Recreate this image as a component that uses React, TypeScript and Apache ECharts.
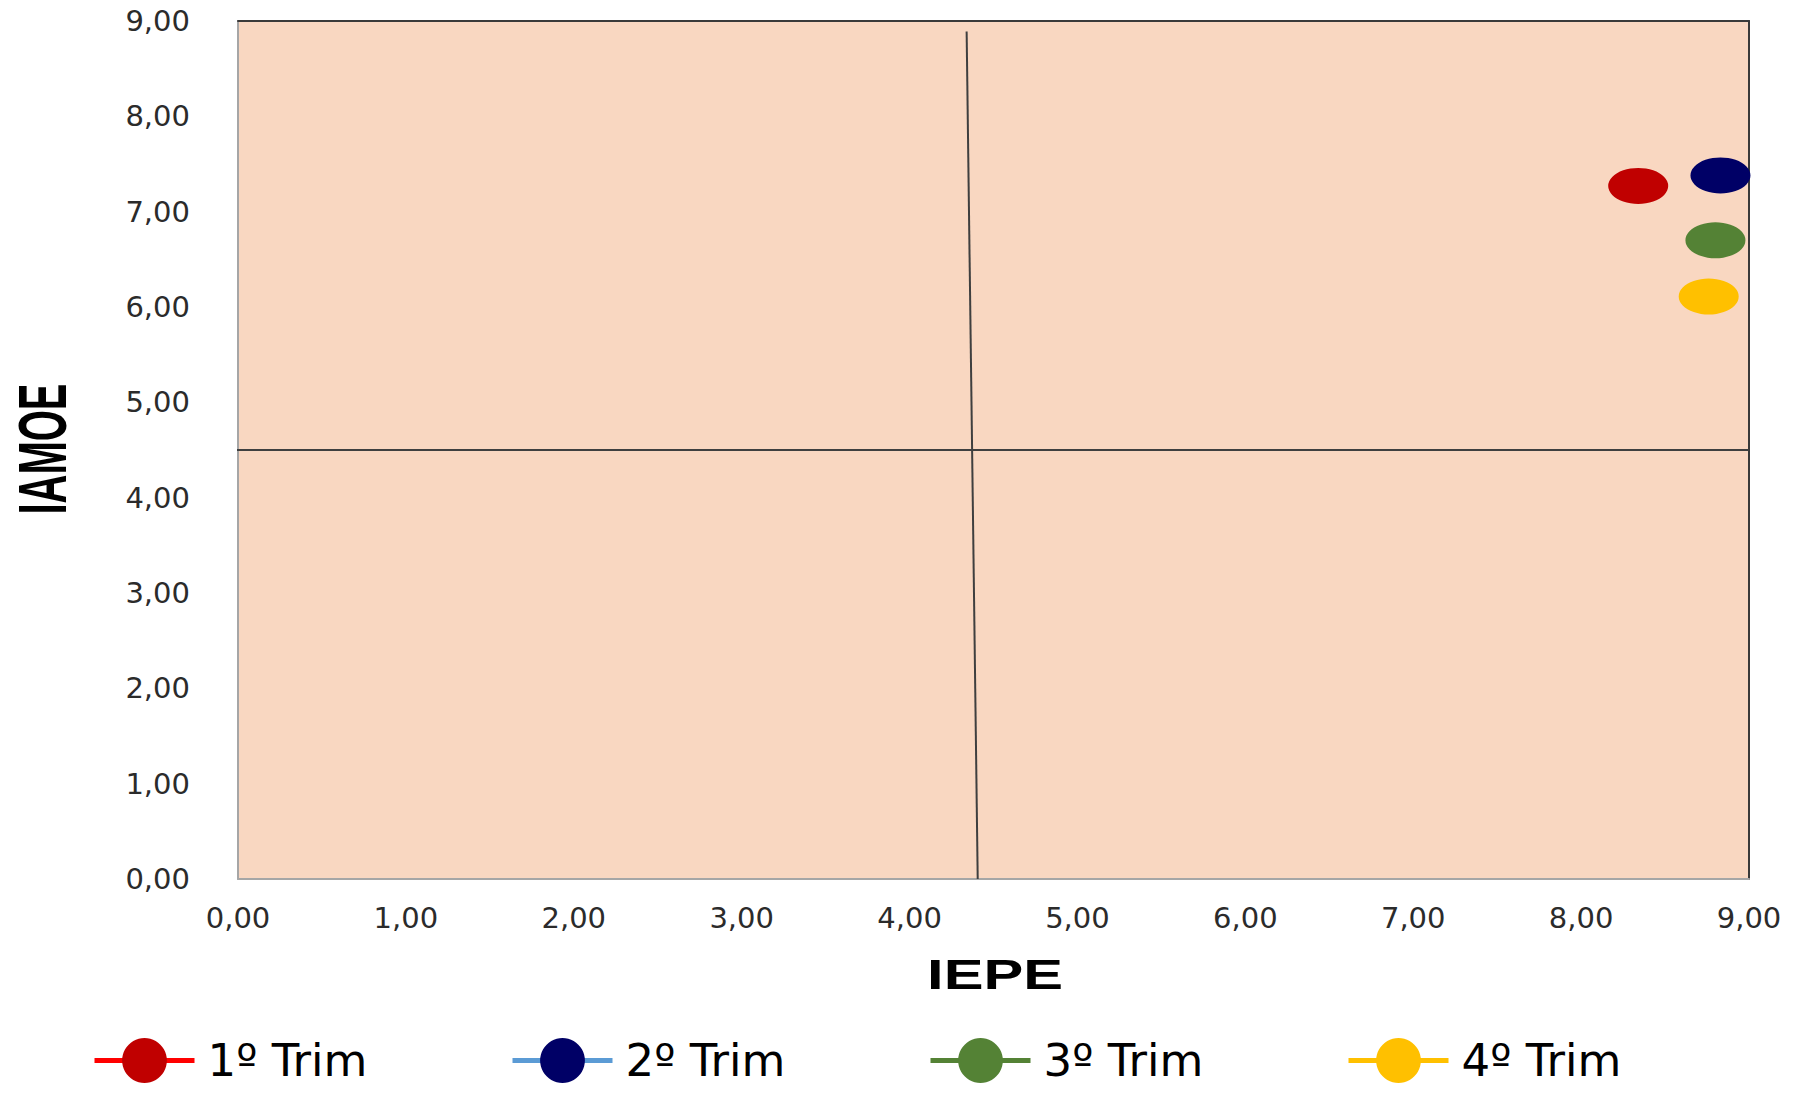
import React, { useEffect, useRef } from "react";
import * as echarts from "echarts";

const seriesNames = ["1º Trim", "2º Trim", "3º Trim", "4º Trim"];
const iepeValues = [8.34, 8.83, 8.8, 8.76];
const iamoeValues = [7.27, 7.38, 6.7, 6.11];
const markerColors = ["#C00000", "#000066", "#548235", "#FFC000"];
const legendLineColors = ["#FF0000", "#5B9BD5", "#548235", "#FFC000"];
const legendLefts = [92, 510, 928, 1346];

const verticalRefLine = [
  [4.406, 0],
  [4.34, 8.89],
];
const horizontalRefLine = [
  [-0.025, 4.5],
  [9, 4.5],
];

const axisMin = 0;
const axisMax = 9;
const axisInterval = 1;

const fmt = (v: number) => v.toFixed(2).replace(".", ",");

export default function App() {
  const ref = useRef<HTMLDivElement>(null);
  useEffect(() => {
    if (!ref.current) return;
    const chart = echarts.init(ref.current, undefined, { renderer: "svg" });
    const tickFont = {
      fontFamily: "DejaVu Sans",
      fontSize: 29,
      color: "#2b2b2b",
    };
    const dataSeries = seriesNames.map((name, i) => ({
      name,
      type: "line",
      data: [[iepeValues[i], iamoeValues[i]]],
      symbol: "circle",
      symbolSize: [60, 36],
      showSymbol: true,
      clip: false,
      itemStyle: { color: markerColors[i] },
      lineStyle: { color: legendLineColors[i], width: 5 },
      z: 5,
    }));
    const option = {
      animation: false,
      backgroundColor: "#ffffff",
      grid: {
        left: 238,
        top: 21,
        right: 59,
        bottom: 216,
        show: true,
        backgroundColor: "#F9D7C1",
        borderWidth: 0,
      },
      xAxis: [
        {
          type: "value",
          min: axisMin,
          max: axisMax,
          interval: axisInterval,
          position: "bottom",
          axisLine: { show: true, onZero: false, lineStyle: { color: "#A6A6A6", width: 2 } },
          axisTick: { show: false },
          splitLine: { show: false },
          axisLabel: { ...tickFont, margin: 24, formatter: fmt },
        },
        {
          type: "value",
          min: axisMin,
          max: axisMax,
          interval: axisInterval,
          position: "top",
          axisLine: { show: true, onZero: false, lineStyle: { color: "#3A3A3A", width: 2 } },
          axisTick: { show: false },
          splitLine: { show: false },
          axisLabel: { show: false },
        },
      ],
      yAxis: [
        {
          type: "value",
          min: axisMin,
          max: axisMax,
          interval: axisInterval,
          position: "left",
          axisLine: { show: true, onZero: false, lineStyle: { color: "#A6A6A6", width: 2 } },
          axisTick: { show: false },
          splitLine: { show: false },
          axisLabel: { ...tickFont, margin: 48, formatter: fmt },
        },
        {
          type: "value",
          min: axisMin,
          max: axisMax,
          interval: axisInterval,
          position: "right",
          axisLine: { show: true, onZero: false, lineStyle: { color: "#3A3A3A", width: 2 } },
          axisTick: { show: false },
          splitLine: { show: false },
          axisLabel: { show: false },
        },
      ],
      legend: seriesNames.map((name, i) => ({
        data: [
          {
            name,
            lineStyle: { color: legendLineColors[i], width: 5 },
          },
        ],
        left: legendLefts[i],
        top: 1038,
        padding: 0,
        itemWidth: 100,
        itemHeight: 56,
        selectedMode: false,
        lineStyle: { width: 5 },
        textStyle: {
          fontFamily: "DejaVu Sans",
          fontSize: 45,
          color: "#000000",
          padding: [0, 0, 0, 8],
        },
      })),
      graphic: [
        {
          type: "text",
          x: 995,
          y: 974,
          scaleX: 1.42,
          style: {
            text: "IEPE",
            fontFamily: "Liberation Sans",
            fontWeight: "bold",
            fontSize: 42,
            fill: "#000000",
            align: "center",
            verticalAlign: "middle",
            textAlign: "center",
            textVerticalAlign: "middle",
          },
        },
        {
          type: "text",
          x: 43,
          y: 449,
          rotation: Math.PI / 2,
          scaleY: 1.7,
          style: {
            text: "IAMOE",
            fontFamily: "Liberation Sans",
            fontWeight: "bold",
            fontSize: 40,
            fill: "#000000",
            align: "center",
            verticalAlign: "middle",
            textAlign: "center",
            textVerticalAlign: "middle",
          },
        },
      ],
      series: [
        {
          name: "refV",
          type: "line",
          data: verticalRefLine,
          symbol: "none",
          clip: false,
          silent: true,
          lineStyle: { color: "#3F3F3F", width: 2 },
          z: 3,
        },
        {
          name: "refH",
          type: "line",
          data: horizontalRefLine,
          symbol: "none",
          clip: false,
          silent: true,
          lineStyle: { color: "#3F3F3F", width: 2 },
          z: 3,
        },
        ...dataSeries,
      ],
    };
    chart.setOption(option as any);
    return () => chart.dispose();
  }, []);
  return (
    <div
      ref={ref}
      style={{ position: "fixed", left: 0, top: 0, width: 1808, height: 1095 }}
    />
  );
}
